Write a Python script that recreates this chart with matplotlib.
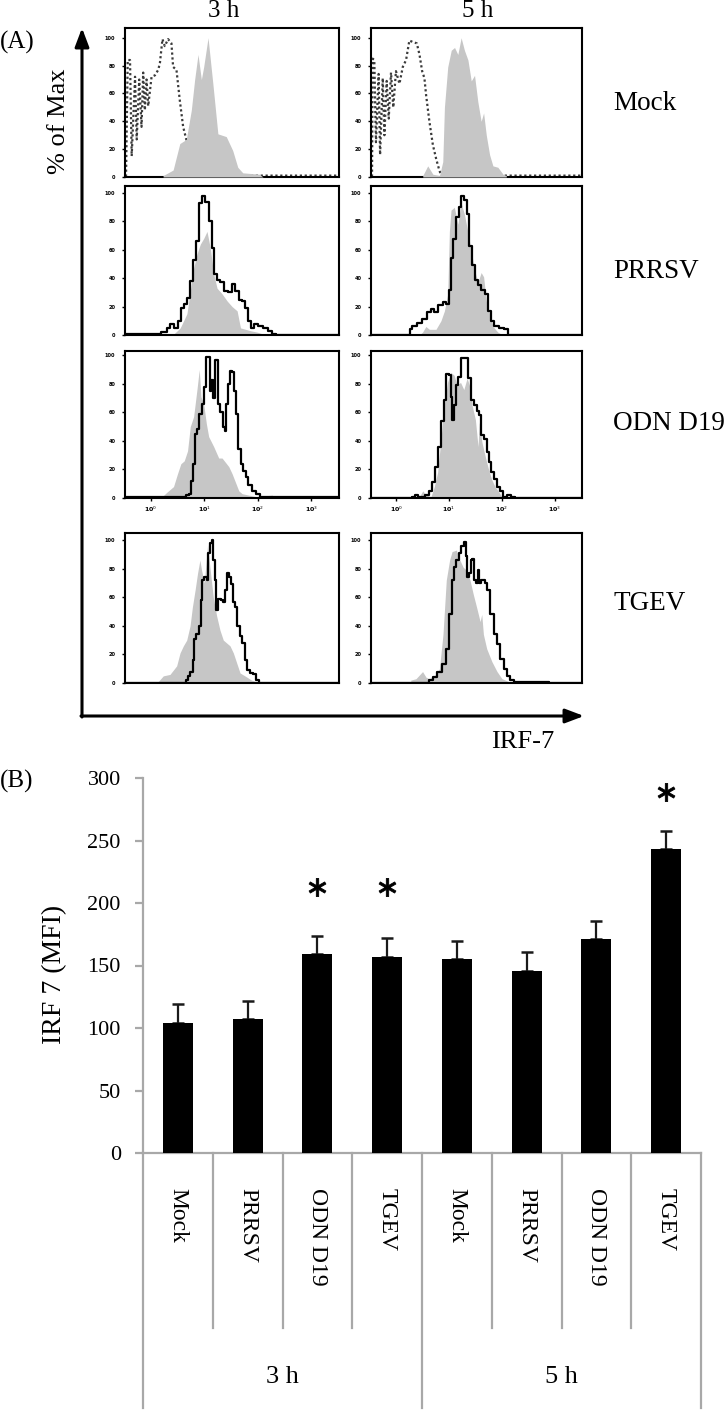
import matplotlib
matplotlib.use("Agg")
import matplotlib.pyplot as plt
from matplotlib.transforms import blended_transform_factory

plt.rcParams['font.family'] = ['Liberation Serif', 'DejaVu Serif']

# ---------------- Panel A data (x = channel 0..1023, y = % of Max) ----------------
time_titles = ["3 h", "5 h"]
row_labels = ["Mock", "PRRSV", "ODN D19", "TGEV"]
hist_yticks = [0, 20, 40, 60, 80, 100]
hist_xtick_ch = [122, 378, 634, 890]
hist_xtick_lbl = ["10$^0$", "10$^1$", "10$^2$", "10$^3$"]

# Mock 3 h
mock3_fill_x = [182, 230, 262, 293, 317, 333, 349, 365, 376, 397, 420, 444, 484, 515, 539, 563, 642, 660]
mock3_fill_y = [1, 5, 24, 27, 48, 70, 88, 70, 79, 100, 67, 31, 29, 19, 7, 3, 2, 0]
mock3_line_x = [0, 5, 13, 24, 32, 48, 56, 68, 79, 87, 95, 103, 111, 127, 143, 159, 167, 179, 190, 206,
                222, 230, 246, 262, 278, 293, 301, 357, 389, 1023]
mock3_line_y = [1, 1, 84, 84, 15, 72, 27, 70, 36, 75, 48, 70, 51, 72, 73, 77, 82, 99, 94, 99,
                96, 79, 77, 55, 36, 27, 25, 5, 1, 1]
# Mock 5 h
mock5_fill_x = [251, 275, 300, 332, 348, 356, 372, 389, 405, 421, 437, 453, 470, 486, 502, 518, 534, 546,
                559, 575, 591, 615, 640, 656]
mock5_fill_y = [1, 8, 2, 1, 11, 50, 79, 91, 93, 88, 100, 91, 84, 69, 73, 54, 40, 46, 30, 16, 8, 7, 2, 1]
mock5_line_x = [0, 5, 8, 16, 24, 37, 44, 57, 65, 76, 86, 97, 108, 121, 138, 154, 170, 186, 202, 222,
                235, 248, 259, 267, 283, 300, 316, 329, 340, 1023]
mock5_line_y = [1, 1, 85, 84, 25, 74, 16, 71, 30, 69, 42, 75, 50, 76, 67, 79, 84, 98, 97, 96,
                88, 76, 71, 59, 40, 23, 13, 6, 1, 1]
# PRRSV 3 h
prrsv3_fill_x = [232, 264, 280, 296, 312, 328, 344, 360, 376, 392, 408, 424, 440, 464, 488, 512, 536, 552,
                 576, 600, 632, 664]
prrsv3_fill_y = [0.5, 5, 10, 15, 31, 47, 57, 64, 68, 73, 61, 43, 33, 29, 24, 20, 17, 5, 4, 3, 2, 0.5]
prrsv3_line_x = [0, 152, 192, 208, 224, 245, 261, 272, 288, 304, 317, 333, 347, 360, 376, 392, 408, 421,
                 432, 448, 464, 480, 504, 520, 536, 552, 568, 584, 596, 608, 624, 648, 672, 696, 712, 728, 1023]
prrsv3_line_y = [0.5, 0.5, 2, 5, 7.5, 5, 10, 19, 22, 26, 38, 53, 66, 93, 98, 94, 80, 61,
                 43, 39, 37, 31, 30, 36, 31, 25, 24, 19, 10, 5, 7.5, 6, 5, 3, 0.5, 0, 0]
# PRRSV 5 h
prrsv5_fill_x = [234, 250, 266, 283, 315, 339, 356, 372, 380, 388, 404, 421, 437, 453, 469, 486, 502, 518,
                 534, 546, 559, 575, 591, 615, 640]
prrsv5_fill_y = [0, 2, 6, 4, 4, 10, 17, 29, 73, 88, 90, 78, 93, 85, 73, 59, 46, 37, 44, 41, 24, 15, 6, 2, 0]
prrsv5_line_x = [0, 185, 193, 209, 234, 258, 283, 299, 315, 339, 356, 372, 383, 393, 404, 421, 432, 445,
                 458, 469, 481, 494, 510, 526, 542, 559, 572, 588, 607, 632, 656, 672, 1023]
prrsv5_line_y = [0, 0, 4, 6, 8.5, 11, 16, 18, 16, 21, 23, 22, 32, 54, 68, 83, 90, 98,
                 95, 85, 63, 49, 39, 35, 32, 29, 17, 10, 6, 5, 4, 0, 0]
# ODN D19 3 h
odn3_fill_x = [176, 200, 232, 251, 267, 283, 299, 312, 328, 344, 355, 363, 376, 389, 400, 424, 448, 464,
               480, 496, 512, 528, 544, 560, 592, 624, 704, 720]
odn3_fill_y = [0.7, 4, 8, 17, 24, 26, 33, 50, 57, 76, 90, 71, 66, 52, 43, 36, 28, 28, 25, 22, 17, 11, 5, 3,
               2, 1, 2, 0]
odn3_line_x = [0, 288, 296, 312, 320, 328, 341, 352, 360, 373, 384, 392, 401, 408, 416, 424, 432, 440, 448,
               461, 472, 480, 488, 499, 507, 516, 524, 536, 548, 560, 571, 584, 596, 616, 640, 651, 1023]
odn3_line_y = [0.7, 0.7, 2, 3, 12, 24, 45, 48, 59, 66, 78, 99, 99, 75, 83, 70, 97, 97, 66,
               60, 50, 47, 66, 80, 89, 88, 75, 59, 34, 24, 19, 15, 9, 5, 3, 0.7, 0.7]
# ODN D19 5 h
odn5_fill_x = [235, 251, 267, 291, 307, 323, 339, 355, 371, 387, 403, 418, 434, 450, 466, 477, 490, 506,
               519, 525, 538, 554, 570, 585, 601, 617, 633]
odn5_fill_y = [1, 5, 2, 1, 8, 18, 41, 65, 81, 88, 86, 79, 81, 76, 84, 79, 65, 55, 36, 53, 39, 29, 20, 13,
               8, 5, 1]
odn5_line_x = [0, 196, 204, 220, 235, 251, 275, 291, 302, 318, 334, 347, 360, 371, 382, 391, 399, 407, 418,
               430, 439, 450, 466, 477, 490, 506, 519, 530, 538, 554, 566, 578, 590, 601, 617, 633, 649, 665,
               689, 705, 1023]
odn5_line_y = [0, 0, 1, 2, 1, 1, 2, 5, 11, 22, 36, 54, 69, 87, 86, 71, 55, 65, 79,
               85, 98, 98, 98, 84, 69, 65, 61, 58, 44, 41, 32, 25, 18, 13, 8, 5, 1, 2, 1, 0, 0]
# TGEV 3 h
tgev3_fill_x = [159, 183, 215, 247, 263, 279, 295, 311, 322, 335, 347, 358, 366, 379, 395, 406, 422, 438,
                454, 470, 486, 502, 518, 534, 550, 573, 605, 629, 645]
tgev3_fill_y = [1, 5, 6, 12, 21, 26, 30, 40, 53, 65, 77, 86, 79, 70, 97, 81, 60, 47, 37, 30, 28, 26, 21,
                14, 7, 5, 2, 1, 0]
tgev3_line_x = [0, 287, 295, 306, 319, 327, 335, 347, 358, 366, 374, 386, 395, 401, 411, 419, 427, 433, 440,
                449, 465, 475, 481, 491, 502, 510, 522, 529, 542, 554, 566, 577, 589, 602, 621, 634, 645, 1023]
tgev3_line_y = [0, 0, 2, 5, 8, 16, 31, 34, 40, 58, 72, 74, 72, 91, 98, 100, 86, 72, 51,
                59, 58, 57, 65, 77, 74, 69, 57, 53, 40, 33, 28, 16, 9, 7, 6, 2, 0, 0]
# TGEV 5 h
tgev5_fill_x = [193, 218, 250, 267, 283, 308, 332, 349, 365, 381, 393, 414, 431, 447, 463, 480, 496, 512,
                529, 537, 545, 561, 586, 611, 635, 668]
tgev5_fill_y = [2, 3, 8, 4, 3, 5, 10, 34, 72, 86, 92, 93, 86, 81, 79, 72, 62, 53, 43, 48, 34, 24, 15, 8, 3, 1]
tgev5_line_x = [0, 275, 291, 308, 332, 357, 373, 386, 398, 406, 419, 431, 442, 455, 463, 471, 478, 488, 496,
                504, 512, 521, 529, 537, 545, 557, 570, 586, 602, 619, 635, 652, 668, 684, 701, 1023]
tgev5_line_y = [0, 0, 2, 4, 8, 13, 24, 48, 72, 81, 86, 91, 96, 99, 89, 74, 77, 86, 87,
                72, 70, 79, 70, 72, 72, 70, 65, 48, 34, 27, 17, 10, 5, 2, 1, 0]

# ---------------- Panel B data ----------------
bar_labels = ["Mock", "PRRSV", "ODN D19", "TGEV", "Mock", "PRRSV", "ODN D19", "TGEV"]
group_labels = ["3 h", "5 h"]
mfi_values = [104, 107, 159, 157, 155, 146, 171, 243]
mfi_errors = [15, 15, 15, 15, 15, 15, 15, 15]
sig_index = [2, 3, 7]
sig_y = [213, 213, 289]
mfi_yticks = [0, 50, 100, 150, 200, 250, 300]

# ---------------- Figure ----------------
W, H = 727, 1411
fig = plt.figure(figsize=(W / 100, H / 100), dpi=100)

def px_axes(x0, y0, x1, y1):
    return fig.add_axes([x0 / W, 1 - y1 / H, (x1 - x0) / W, (y1 - y0) / H])

# overlay in pixel coordinates
ov = fig.add_axes([0, 0, 1, 1], zorder=0)
ov.set_xlim(0, W)
ov.set_ylim(H, 0)
ov.axis('off')
ov.patch.set_alpha(0)

cols = [(125, 339), (371, 582)]
rows = [(28, 177), (186, 335), (351, 498), (533, 683)]
ytops = [107, 105, 103, 105]

panels = [
    [(mock3_fill_x, mock3_fill_y, mock3_line_x, mock3_line_y),
     (mock5_fill_x, mock5_fill_y, mock5_line_x, mock5_line_y)],
    [(prrsv3_fill_x, prrsv3_fill_y, prrsv3_line_x, prrsv3_line_y),
     (prrsv5_fill_x, prrsv5_fill_y, prrsv5_line_x, prrsv5_line_y)],
    [(odn3_fill_x, odn3_fill_y, odn3_line_x, odn3_line_y),
     (odn5_fill_x, odn5_fill_y, odn5_line_x, odn5_line_y)],
    [(tgev3_fill_x, tgev3_fill_y, tgev3_line_x, tgev3_line_y),
     (tgev5_fill_x, tgev5_fill_y, tgev5_line_x, tgev5_line_y)],
]

GRAY = '#c6c6c6'
for r, (y0, y1) in enumerate(rows):
    for c, (x0, x1) in enumerate(cols):
        ax = px_axes(x0, y0, x1, y1)
        fx, fy, lx, ly = panels[r][c]
        if r == 0:
            ax.plot(lx, ly, color='#3a3a3a', lw=1.6, ls=(0, (1, 1.2)), zorder=2)
            ax.fill_between(fx, fy, 0, color=GRAY, lw=0, zorder=3)
        else:
            ax.fill_between(fx, fy, 0, color=GRAY, lw=0, zorder=2)
            ax.plot(lx, ly, color='black', lw=1.6, zorder=3, drawstyle='steps-mid')
        ax.set_xlim(0, 1023)
        ax.set_ylim(0, ytops[r])
        for s in ax.spines.values():
            s.set_linewidth(1.5)
            s.set_color('black')
        ax.set_yticks(hist_yticks)
        ax.set_yticklabels([str(v) for v in hist_yticks], fontsize=3.6,
                           fontweight='bold', family='DejaVu Sans')
        ax.tick_params(axis='y', length=2, width=1, pad=5)
        if r == 2:
            ax.set_xticks(hist_xtick_ch)
            ax.set_xticklabels(hist_xtick_lbl, fontsize=4.5, fontweight='bold', family='DejaVu Sans')
            ax.tick_params(axis='x', length=2, width=1, pad=3)
        else:
            ax.set_xticks([])

# titles and labels for panel A
ov.text(0, 42, "(A)", fontsize=18, va='center', ha='left')
ov.text(224, 11, time_titles[0], fontsize=18, va='center', ha='center')
ov.text(478, 11, time_titles[1], fontsize=18, va='center', ha='center')
ov.text(59, 121, "% of Max", fontsize=19, rotation=90, va='center', ha='center')
for lbl, yc in zip(row_labels, [103, 271, 424, 604]):
    ov.text(613, yc, lbl, fontsize=19.5, va='center', ha='left')
ov.text(523, 742, "IRF-7", fontsize=19, va='center', ha='center')
arrow_style = '-|>,head_length=0.45,head_width=0.17'
ov.annotate('', xy=(82, 28), xytext=(82, 717),
            arrowprops=dict(arrowstyle=arrow_style, lw=2.2, color='black',
                            mutation_scale=25, shrinkA=0, shrinkB=0))
ov.annotate('', xy=(584, 716), xytext=(81, 716),
            arrowprops=dict(arrowstyle=arrow_style, lw=2.2, color='black',
                            mutation_scale=25, shrinkA=0, shrinkB=0))

# ---------------- Panel B ----------------
AXC = '#a8a8a8'
axb = px_axes(143, 778, 701, 1153)
xs = list(range(len(mfi_values)))
axb.bar(xs, mfi_values, width=0.43, color='black', zorder=3,
        yerr=[[0] * len(mfi_errors), mfi_errors],
        error_kw=dict(ecolor='#1a1a1a', elinewidth=1.6, capsize=4.2, capthick=1.8, zorder=2))
axb.plot([xs[i] for i in sig_index], sig_y, ls='none', marker='$\\ast$', ms=13,
         color='black', mew=0.6)
axb.set_xlim(-0.5, len(mfi_values) - 0.5)
axb.set_ylim(0, 300)
axb.set_yticks(mfi_yticks)
axb.set_yticklabels([str(v) for v in mfi_yticks], fontsize=16)
axb.set_xticks([])
for side in ['top', 'right']:
    axb.spines[side].set_visible(False)
for side in ['left', 'bottom']:
    axb.spines[side].set_color(AXC)
    axb.spines[side].set_linewidth(1.6)
axb.tick_params(axis='y', length=6, width=1.6, color=AXC, pad=10, direction='out')
axb.set_ylabel("IRF 7 (MFI)", fontsize=20, labelpad=4)
axb.yaxis.set_label_coords(-0.136, 0.477)

tr = blended_transform_factory(axb.transData, axb.transAxes)
ax_h = 1153 - 778
for i, lbl in enumerate(bar_labels):
    axb.text(i, -(1188 - 1153) / ax_h, lbl, transform=tr, rotation=270,
             ha='center', va='top', fontsize=17)
short_b = [0.5, 1.5, 2.5, 4.5, 5.5, 6.5]
long_b = [-0.5, 3.5, 7.5]
for b in short_b:
    axb.plot([b, b], [0, -(1328 - 1153) / ax_h], transform=tr, color=AXC, lw=1.6, clip_on=False)
for b in long_b:
    axb.plot([b, b], [0, -(1408 - 1153) / ax_h], transform=tr, color=AXC, lw=1.6, clip_on=False)
for g, lbl in enumerate(group_labels):
    axb.text(1.5 + 4 * g, -(1377 - 1153) / ax_h, lbl, transform=tr,
             ha='center', va='center', fontsize=19)

ov.text(0, 781, "(B)", fontsize=18, va='center', ha='left')

fig.savefig("out.png", dpi=100)
